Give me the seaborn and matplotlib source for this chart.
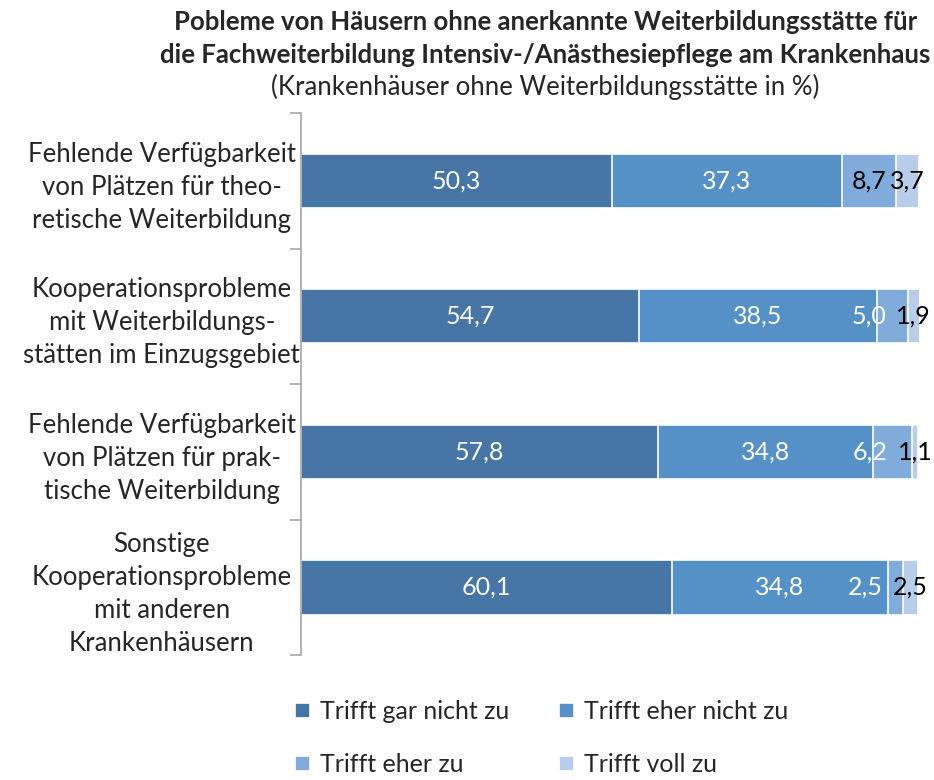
import matplotlib.pyplot as plt
import numpy as np
import pandas as pd
import seaborn as sns

categories = [
    "Fehlende Verfügbarkeit\nvon Plätzen für theo-\nretische Weiterbildung",
    "Kooperationsprobleme\nmit Weiterbildungs-\nstätten im Einzugsgebiet",
    "Fehlende Verfügbarkeit\nvon Plätzen für prak-\ntische Weiterbildung",
    "Sonstige\nKooperationsprobleme\nmit anderen\nKrankenhäusern",
]
series = ["Trifft gar nicht zu", "Trifft eher nicht zu", "Trifft eher zu", "Trifft voll zu"]
gar_nicht = [50.3, 54.7, 57.8, 60.1]
eher_nicht = [37.3, 38.5, 34.8, 34.8]
eher_zu = [8.7, 5.0, 6.2, 2.5]
voll_zu = [3.7, 1.9, 1.1, 2.5]
colors = ["#4675a6", "#5591c7", "#80abdb", "#b8cde9"]

values = np.array([gar_nicht, eher_nicht, eher_zu, voll_zu])
cumulative = values.cumsum(axis=0)

sns.set_style("white")
plt.rcParams["font.family"] = ["Lato", "DejaVu Sans"]

fig = plt.figure(figsize=(9.34, 7.8), dpi=100)
ax = fig.add_axes([0.322, 0.160, 0.662, 0.695])

# stacked bars: draw the cumulative totals from the last series to the first
for i in reversed(range(len(series))):
    df = pd.DataFrame({"Kategorie": categories, "Wert": cumulative[i]})
    sns.barplot(data=df, x="Wert", y="Kategorie", color=colors[i], label=series[i],
                width=0.4, edgecolor="white", linewidth=1.2, saturation=1, ax=ax)

# value labels
for r in range(len(categories)):
    for i in range(len(series)):
        start = cumulative[i][r] - values[i][r]
        center = start + values[i][r] / 2
        txt = f"{values[i][r]:.1f}".replace(".", ",")
        color = "white" if i < 2 else "black"
        ha = "center"
        x = center
        if i == 2 and values[i][r] < 7:
            # narrow segment: move label to the left of the last label
            voll_center = cumulative[3][r] - values[3][r] / 2
            x = voll_center - 4.5
            ha = "right"
            color = "white"
        ax.text(x, r, txt, ha=ha, va="center", color=color, fontsize=18)

ax.set_xlim(0, 100)
ax.set_ylim(3.5, -0.5)
ax.set_xlabel("")
ax.set_ylabel("")
ax.set_xticks([])
for s in ["top", "right", "bottom"]:
    ax.spines[s].set_visible(False)
ax.spines["left"].set_color("#a6a6a6")
ax.spines["left"].set_linewidth(1.2)

ax.set_yticks(np.arange(-0.5, 4, 1), minor=True)
ax.tick_params(axis="y", which="minor", length=8, width=1.2, color="#a6a6a6", left=True)
ax.tick_params(axis="y", which="major", length=0, pad=100, labelsize=18.5)
for lab in ax.get_yticklabels():
    lab.set_ha("center")
    lab.set_multialignment("center")
    lab.set_linespacing(1.4)

handles, labels = ax.get_legend_handles_labels()
order = [labels.index(s) for s in [series[0], series[2], series[1], series[3]]]
ax.legend([handles[k] for k in order], [labels[k] for k in order], ncol=2,
          loc="upper left", bbox_to_anchor=(0.292, 0.131), bbox_transform=fig.transFigure,
          frameon=False, fontsize=18, handlelength=0.6, handleheight=0.6,
          handletextpad=0.4, columnspacing=2.0, labelspacing=1.2)

fig.text(0.584, 0.972, "Pobleme von Häusern ohne anerkannte Weiterbildungsstätte für",
         ha="center", va="center", fontsize=18.5, fontweight="bold")
fig.text(0.584, 0.930, "die Fachweiterbildung Intensiv-/Anästhesiepflege am Krankenhaus",
         ha="center", va="center", fontsize=18.5, fontweight="bold")
fig.text(0.584, 0.888, "(Krankenhäuser ohne Weiterbildungsstätte in %)",
         ha="center", va="center", fontsize=18.5)

fig.savefig("out.png", dpi=100)
